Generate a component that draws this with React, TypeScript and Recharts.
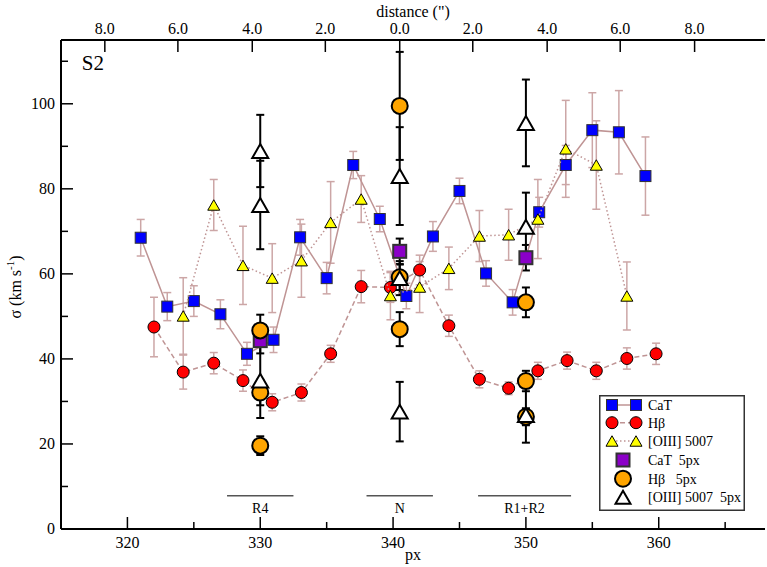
import React from 'react';
import {
  ComposedChart, Scatter, XAxis, YAxis, ErrorBar, ReferenceLine, ReferenceDot
} from 'recharts';

// CaT (blue squares, solid line)
const catPx = [321, 323, 325, 327, 329, 331, 333, 335, 337, 339, 341, 343, 345, 347, 349, 351, 353, 355, 357, 359];
const catSigma = [68.5, 52.3, 53.6, 50.5, 41.2, 44.5, 68.6, 59.0, 85.6, 72.9, 54.8, 68.8, 79.5, 60.1, 53.3, 74.5, 85.6, 93.8, 93.3, 83.0];
const catErr = [4.3, 3.3, 3.6, 3.4, 2.7, 3.0, 4.2, 3.7, 3.2, 3.0, 3.0, 3.5, 3.0, 3.0, 3.0, 3.5, 4.6, 8.8, 9.8, 9.2];

// Hbeta (red circles, dashed line)
const hbPx = [322.0, 324.2, 326.5, 328.7, 330.9, 333.1, 335.3, 337.6, 339.8, 342.0, 344.2, 346.5, 348.7, 350.9, 353.1, 355.3, 357.6, 359.8];
const hbSigma = [47.5, 36.9, 39.0, 34.9, 29.8, 32.1, 41.2, 57.0, 56.8, 60.9, 47.8, 35.2, 33.1, 37.2, 39.6, 37.2, 40.1, 41.2];
const hbErr = [7.0, 4.0, 2.5, 2.5, 2.0, 2.0, 2.0, 3.8, 3.5, 3.5, 2.5, 2.0, 1.5, 2.0, 2.0, 2.0, 2.5, 2.5];

// [OIII] 5007 (yellow triangles, dotted line)
const oiiiPx = [324.2, 326.5, 328.7, 330.9, 333.1, 335.3, 337.6, 339.8, 342.0, 344.2, 346.5, 348.7, 350.9, 353.0, 355.3, 357.6];
const oiiiSigma = [50.1, 76.2, 62.0, 59.0, 63.1, 72.1, 77.6, 54.9, 56.9, 61.3, 68.9, 69.2, 72.9, 89.4, 85.6, 54.8];
const oiiiErr = [9.0, 6.0, 9.2, 8.1, 8.6, 9.6, 5.5, 5.7, 6.0, 5.0, 6.0, 6.0, 9.3, 11.4, 10.4, 8.0];

// 5px binned points
const cat5 = [
  { px: 330, sigma: 44.3, err: 3.0 },
  { px: 340.5, sigma: 65.3, err: 3.0 },
  { px: 350, sigma: 63.8, err: 3.0 },
];
const hb5 = [
  { px: 330, sigma: 46.7, err: 3.7 },
  { px: 330, sigma: 32.1, err: 3.0 },
  { px: 330, sigma: 19.6, err: 2.2 },
  { px: 340.5, sigma: 99.5, err: 12.7 },
  { px: 340.5, sigma: 59.2, err: 3.0 },
  { px: 340.5, sigma: 47.0, err: 4.0 },
  { px: 350, sigma: 53.3, err: 3.5 },
  { px: 350, sigma: 34.8, err: 2.4 },
  { px: 350, sigma: 26.4, err: 2.0 },
];
const oiii5 = [
  { px: 330, sigma: 88.9, err: 8.5 },
  { px: 330, sigma: 76.2, err: 10.4 },
  { px: 330, sigma: 34.9, err: 8.8 },
  { px: 340.5, sigma: 83.0, err: 11.5 },
  { px: 340.5, sigma: 59.0, err: 4.0 },
  { px: 340.5, sigma: 27.6, err: 7.0 },
  { px: 350, sigma: 95.5, err: 10.2 },
  { px: 350, sigma: 71.1, err: 8.0 },
  { px: 350, sigma: 26.8, err: 6.5 },
];

const regions = [
  { name: 'R4', from: 327.5, to: 332.5 },
  { name: 'N', from: 338.0, to: 343.0 },
  { name: 'R1+R2', from: 346.4, to: 353.4 },
];

const xTicks = [320, 325, 330, 335, 340, 345, 350, 355, 360, 365];
const yTicks = [0, 10, 20, 30, 40, 50, 60, 70, 80, 90, 100, 110];
const topTickPx = [318.3, 323.8, 329.4, 334.9, 340.5, 346.0, 351.6, 357.1, 362.7];
const topTickLabels = ['8.0', '6.0', '4.0', '2.0', '0.0', '2.0', '4.0', '6.0', '8.0'];

const catData = catPx.map((px, i) => ({ px, sigma: catSigma[i], err: catErr[i] }));
const hbData = hbPx.map((px, i) => ({ px, sigma: hbSigma[i], err: hbErr[i] }));
const oiiiData = oiiiPx.map((px, i) => ({ px, sigma: oiiiSigma[i], err: oiiiErr[i] }));

const FONT = 'Liberation Serif, DejaVu Serif, serif';
const LINE = '#bf9494';
const ERR = '#cca6a6';
const txt = { fontFamily: FONT, whiteSpace: 'pre' as const };

const Square = (size: number, fill: string, stroke: string, sw: number) => (p: any) => (
  <rect x={p.cx - size / 2} y={p.cy - size / 2} width={size} height={size} fill={fill} stroke={stroke} strokeWidth={sw} />
);
const Circle = (r: number, fill: string, stroke: string, sw: number) => (p: any) => (
  <circle cx={p.cx} cy={p.cy} r={r} fill={fill} stroke={stroke} strokeWidth={sw} />
);
const Triangle = (s: number, fill: string, stroke: string, sw: number) => (p: any) => {
  const h = s * 0.87;
  const pts = `${p.cx - s / 2},${p.cy + h / 2} ${p.cx + s / 2},${p.cy + h / 2} ${p.cx},${p.cy - h / 2}`;
  return <polygon points={pts} fill={fill} stroke={stroke} strokeWidth={sw} strokeLinejoin="miter" />;
};

const BottomTick = (p: any) => {
  const major = p.payload.value % 10 === 0;
  return (
    <g>
      <line x1={p.x} y1={p.y} x2={p.x} y2={p.y - (major ? 12 : 7)} stroke="#000" strokeWidth={1.5} />
      {major && (
        <text x={p.x} y={p.y + 19} textAnchor="middle" style={txt} fontSize={16} fill="#000">
          {p.payload.value}
        </text>
      )}
    </g>
  );
};

const TopTick = (p: any) => (
  <g>
    <line x1={p.x} y1={p.y} x2={p.x} y2={p.y + 12} stroke="#000" strokeWidth={1.5} />
    <text x={p.x} y={p.y - 6} textAnchor="middle" style={txt} fontSize={16} fill="#000">
      {topTickLabels[p.index]}
    </text>
  </g>
);

const LeftTick = (p: any) => {
  const major = p.payload.value % 20 === 0;
  return (
    <g>
      <line x1={p.x} y1={p.y} x2={p.x + (major ? 12 : 7)} y2={p.y} stroke="#000" strokeWidth={1.5} />
      {major && (
        <text x={p.x - 6} y={p.y + 5} textAnchor="end" style={txt} fontSize={16} fill="#000">
          {p.payload.value}
        </text>
      )}
    </g>
  );
};

const RightTick = (p: any) => {
  const major = p.payload.value % 20 === 0;
  return <line x1={p.x} y1={p.y} x2={p.x - (major ? 12 : 7)} y2={p.y} stroke="#000" strokeWidth={1.5} />;
};

const YLabel = (p: any) => {
  const vb = p.viewBox;
  const x = vb.x + 21;
  const y = 287;
  return (
    <text x={x} y={y} transform={`rotate(-90 ${x} ${y})`} textAnchor="middle" style={txt} fontSize={16} fill="#000">
      σ (km s<tspan dy={-7} fontSize={11}>-1</tspan><tspan dy={7}>)</tspan>
    </text>
  );
};

const BottomLabel = (p: any) => {
  const vb = p.viewBox;
  return (
    <text x={vb.x + vb.width / 2} y={560} textAnchor="middle" style={txt} fontSize={16} fill="#000">px</text>
  );
};

const TopLabel = (p: any) => {
  const vb = p.viewBox;
  return (
    <text x={vb.x + vb.width / 2} y={17} textAnchor="middle" style={txt} fontSize={16} fill="#000">distance (")</text>
  );
};

const RegionLabel = (name: string) => (p: any) => {
  const vb = p.viewBox;
  return (
    <text x={vb.x + vb.width / 2} y={vb.y + 17} textAnchor="middle" style={txt} fontSize={14} fill="#000">
      {name}
    </text>
  );
};

const S2Label = (p: any) => {
  const vb = p.viewBox;
  return (
    <text x={vb.x + vb.width / 2} y={vb.y + vb.height / 2 + 7} textAnchor="middle" style={txt} fontSize={21} fill="#000">
      S2
    </text>
  );
};

function LegendBox() {
  const rows = [10, 27.7, 46, 65, 83.7, 102.3];
  const tx = 49;
  const text = (i: number, s: string) => (
    <text x={tx} y={rows[i] + 5} style={txt} fontSize={14} fill="#000">{s}</text>
  );
  const at = (x: number, y: number) => ({ cx: x, cy: y });
  return (
    <svg width={146} height={116} style={{ position: 'absolute', left: 599, top: 395 }}>
      <rect x={0.75} y={0.75} width={144.5} height={114.5} fill="#fff" stroke="#333" strokeWidth={1.5} />
      <line x1={13} y1={rows[0]} x2={37} y2={rows[0]} stroke={LINE} strokeWidth={1.5} />
      {Square(11, '#0000ff', '#333', 1)(at(13, rows[0]))}
      {Square(11, '#0000ff', '#333', 1)(at(37, rows[0]))}
      {text(0, 'CaT')}
      <line x1={13} y1={rows[1]} x2={37} y2={rows[1]} stroke={LINE} strokeWidth={1.5} strokeDasharray="5 3" />
      {Circle(6, '#ff0000', '#000', 1)(at(13, rows[1]))}
      {Circle(6, '#ff0000', '#000', 1)(at(37, rows[1]))}
      {text(1, 'Hβ')}
      <line x1={13} y1={rows[2]} x2={37} y2={rows[2]} stroke={LINE} strokeWidth={1.5} strokeDasharray="1.5 2.5" />
      {Triangle(12, '#ffff00', '#000', 1)(at(13, rows[2]))}
      {Triangle(12, '#ffff00', '#000', 1)(at(37, rows[2]))}
      {text(2, '[OIII] 5007')}
      {Square(13, '#8b00c8', '#333', 2)(at(24, rows[3]))}
      {text(3, 'CaT  5px')}
      {Circle(8, '#ffa500', '#000', 2)(at(24, rows[4]))}
      {text(4, 'Hβ   5px')}
      {Triangle(15, '#fff', '#000', 2)(at(24, rows[5]))}
      {text(5, '[OIII] 5007  5px')}
    </svg>
  );
}

export default function App() {
  return (
    <div style={{ position: 'absolute', left: 0, top: 0, width: 767, height: 567, background: '#fff', fontFamily: FONT }}>
      <ComposedChart width={767} height={567} margin={{ top: 0, right: 2, bottom: 0, left: 0 }}>
        <XAxis
          dataKey="px" type="number" domain={[315, 368]} allowDataOverflow ticks={xTicks} interval={0}
          height={38} tickSize={0} tickMargin={0} tick={BottomTick} tickLine={false}
          axisLine={{ stroke: '#000', strokeWidth: 2 }}
          label={BottomLabel}
        />
        <XAxis
          xAxisId="top" orientation="top" dataKey="px" type="number" domain={[315, 368]} allowDataOverflow
          ticks={topTickPx} interval={0} height={40} tickSize={0} tickMargin={0} tick={TopTick} tickLine={false}
          axisLine={{ stroke: '#000', strokeWidth: 2 }}
          label={TopLabel}
        />
        <YAxis
          dataKey="sigma" type="number" domain={[0, 115]} allowDataOverflow ticks={yTicks} interval={0}
          width={61} tickSize={0} tickMargin={0} tick={LeftTick} tickLine={false}
          axisLine={{ stroke: '#000', strokeWidth: 2 }}
          label={YLabel}
        />
        <YAxis
          yAxisId="r" orientation="right" type="number" domain={[0, 115]} allowDataOverflow ticks={yTicks}
          interval={0} width={0} tickSize={0} tickMargin={0} tick={RightTick} tickLine={false}
          axisLine={{ stroke: '#000', strokeWidth: 2 }}
        />

        {regions.map((r) => (
          <ReferenceLine
            key={r.name}
            segment={[{ x: r.from, y: 7.8 }, { x: r.to, y: 7.8 }]}
            stroke="#555" strokeWidth={1.5}
            label={RegionLabel(r.name)}
          />
        ))}

        <ReferenceDot x={317.4} y={109.6} r={0} fill="none" stroke="none" label={S2Label} />

        <Scatter data={catData} dataKey="sigma" isAnimationActive={false}
          line={{ stroke: LINE, strokeWidth: 1.5 }} shape={Square(11, '#0000ff', '#333', 1)}>
          <ErrorBar dataKey="err" direction="y" width={4} stroke={ERR} strokeWidth={1.5} />
        </Scatter>
        <Scatter data={hbData} dataKey="sigma" isAnimationActive={false}
          line={{ stroke: LINE, strokeWidth: 1.5, strokeDasharray: '5 3' }} shape={Circle(6, '#ff0000', '#000', 1)}>
          <ErrorBar dataKey="err" direction="y" width={4} stroke={ERR} strokeWidth={1.5} />
        </Scatter>
        <Scatter data={oiiiData} dataKey="sigma" isAnimationActive={false}
          line={{ stroke: LINE, strokeWidth: 1.5, strokeDasharray: '1.5 2.5' }} shape={Triangle(12, '#ffff00', '#000', 1)}>
          <ErrorBar dataKey="err" direction="y" width={4} stroke={ERR} strokeWidth={1.5} />
        </Scatter>

        <Scatter data={cat5} dataKey="sigma" isAnimationActive={false} shape={Square(13, '#8b00c8', '#333', 2)}>
          <ErrorBar dataKey="err" direction="y" width={4} stroke="#000" strokeWidth={2} />
        </Scatter>
        <Scatter data={hb5} dataKey="sigma" isAnimationActive={false} shape={Circle(8, '#ffa500', '#000', 2)}>
          <ErrorBar dataKey="err" direction="y" width={4} stroke="#000" strokeWidth={2} />
        </Scatter>
        <Scatter data={oiii5} dataKey="sigma" isAnimationActive={false} shape={Triangle(16, '#fff', '#000', 2)}>
          <ErrorBar dataKey="err" direction="y" width={4} stroke="#000" strokeWidth={2} />
        </Scatter>
      </ComposedChart>
      <LegendBox />
    </div>
  );
}
